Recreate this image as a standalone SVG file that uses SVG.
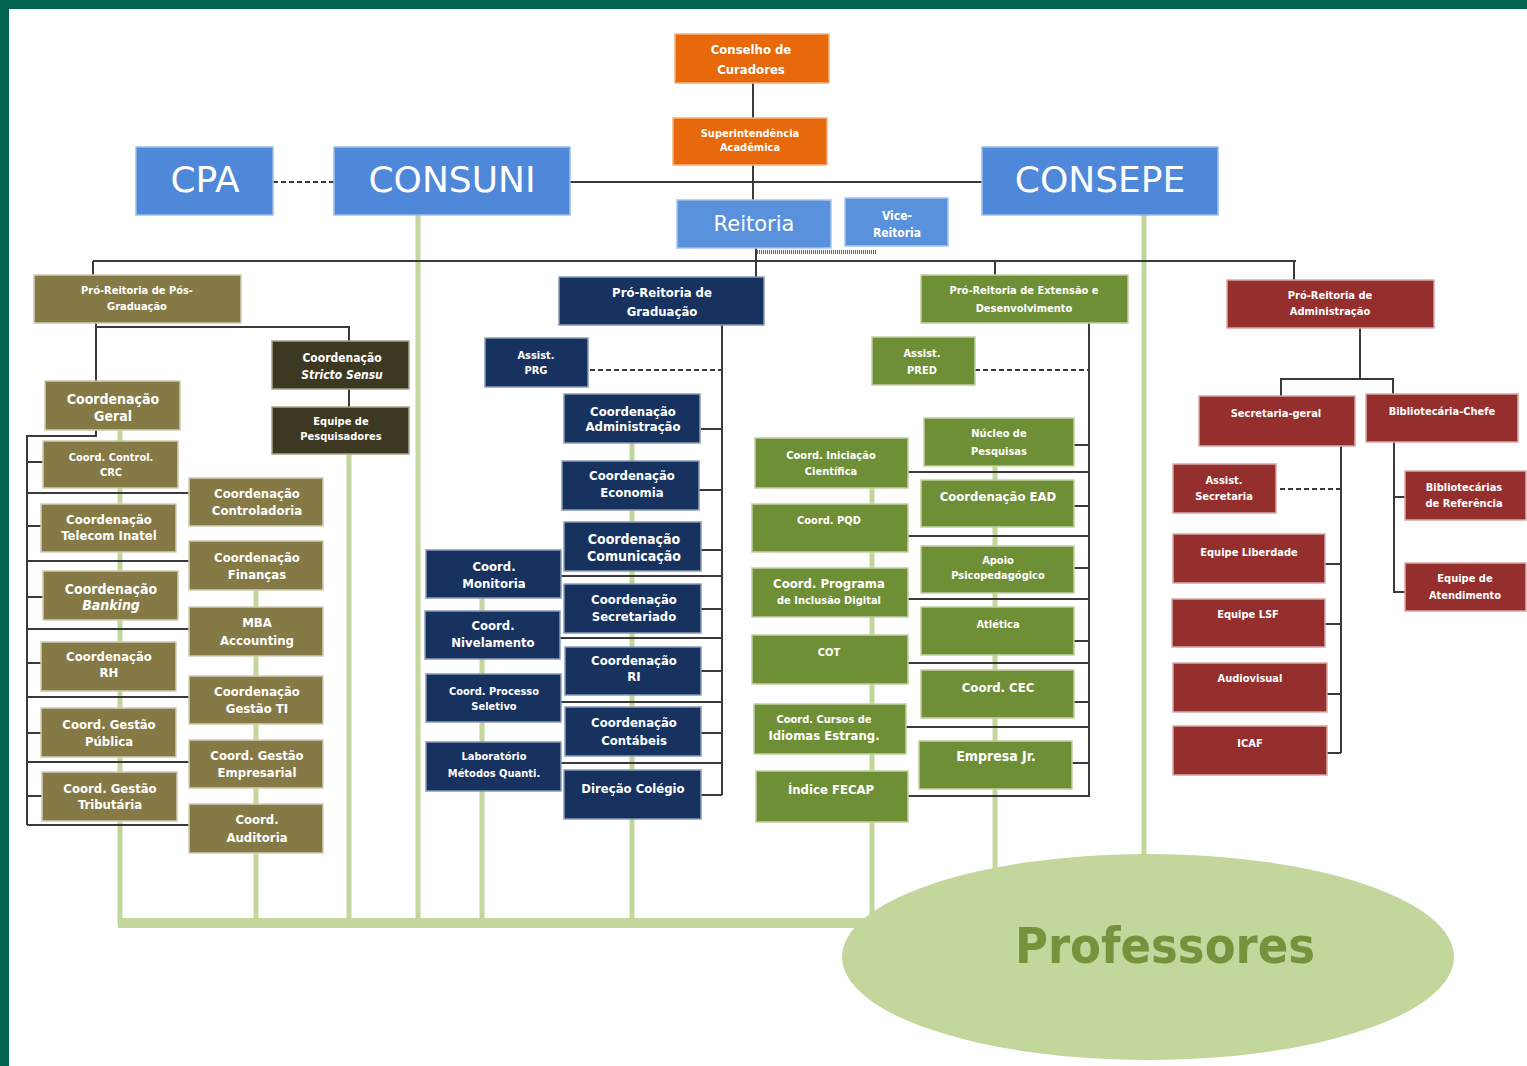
<svg xmlns="http://www.w3.org/2000/svg" width="1527" height="1066" viewBox="0 0 1527 1066">
<style>
.frame{fill:#00624f}
.gl{stroke:#c3d69b;stroke-width:5;fill:none}
.c{stroke:#3a3a3a;stroke-width:2;fill:none}
.d{stroke:#3a3a3a;stroke-width:2;fill:none;stroke-dasharray:5 3}
.or{fill:#e8690c;stroke:#f3b27e;stroke-width:1.5}
.bl{fill:#4f88d8;stroke:#9dbde9;stroke-width:1.5}
.bl2{fill:#5a91dd;stroke:#a7c4ec;stroke-width:1.5}
.ol{fill:#857a45;stroke:#d2ccb3;stroke-width:1.5}
.dk{fill:#3d3822;stroke:#a8a48f;stroke-width:1.5}
.nv{fill:#17325f;stroke:#8a9bb8;stroke-width:1.5}
.gr{fill:#6f8f37;stroke:#c2d0a3;stroke-width:1.5}
.rd{fill:#952f2e;stroke:#d9a9a8;stroke-width:1.5}
.t{font-family:"DejaVu Sans Condensed","Liberation Sans",sans-serif;font-weight:bold;font-size:12px;fill:#fff;text-anchor:middle}
.s{font-size:11px}
.m{font-size:13px}
.l{font-size:14px}
.big{font-family:"DejaVu Sans",sans-serif;font-size:36px;fill:#fff;text-anchor:middle}
.rei{font-family:"DejaVu Sans",sans-serif;font-size:21px;fill:#fff;text-anchor:middle}
.prof{font-family:"DejaVu Sans Condensed","DejaVu Sans",sans-serif;font-weight:bold;font-size:50px;fill:#76923c;text-anchor:middle}
</style>
<rect width="1527" height="1066" fill="#fff"/>
<rect class="frame" x="0" y="0" width="1527" height="9"/>
<rect class="frame" x="0" y="0" width="9" height="1066"/>

<g id="professor-links">
<line class="gl" x1="120" y1="430" x2="120" y2="925"/>
<line class="gl" x1="256" y1="590" x2="256" y2="925"/>
<line class="gl" x1="349" y1="454" x2="349" y2="925"/>
<line class="gl" x1="418" y1="215" x2="418" y2="925"/>
<line class="gl" x1="482" y1="598" x2="482" y2="925"/>
<line class="gl" x1="632" y1="443" x2="632" y2="925"/>
<line class="gl" x1="872" y1="488" x2="872" y2="925"/>
<line class="gl" x1="995" y1="466" x2="995" y2="880"/>
<line class="gl" x1="1144" y1="215" x2="1144" y2="870"/>
<rect x="118" y="918" width="780" height="10" fill="#c3d69b"/>
</g>

<g id="professores">
<ellipse cx="1148" cy="957" rx="306" ry="103" fill="#c3d69b"/>
<text class="prof" x="1165" y="963">Professores</text>
</g>

<g id="connectors">
<line class="c" x1="753" y1="83" x2="753" y2="200"/>
<line class="c" x1="570" y1="182" x2="982" y2="182"/>
<line class="d" x1="273" y1="182" x2="334" y2="182"/>
<line class="c" x1="93" y1="261" x2="1296" y2="261"/>
<line class="c" x1="756" y1="248" x2="756" y2="277"/>
<line x1="757" y1="252" x2="877" y2="252" stroke="#666" stroke-width="4" stroke-dasharray="1 1"/>
<line class="c" x1="93" y1="261" x2="93" y2="275"/>
<line class="c" x1="995" y1="261" x2="995" y2="275"/>
<line class="c" x1="1294" y1="261" x2="1294" y2="280"/>
<!-- Pós-Graduação -->
<polyline class="c" points="96,323 96,381"/>
<polyline class="c" points="96,327 349,327 349,341"/>
<line class="c" x1="349" y1="389" x2="349" y2="407"/>
<polyline class="c" points="96,430 96,436 27,436 27,825"/>
<line class="c" x1="27" y1="462" x2="44" y2="462"/>
<line class="c" x1="27" y1="526" x2="42" y2="526"/>
<line class="c" x1="27" y1="597" x2="44" y2="597"/>
<line class="c" x1="27" y1="663" x2="42" y2="663"/>
<line class="c" x1="27" y1="733" x2="42" y2="733"/>
<line class="c" x1="27" y1="796" x2="42" y2="796"/>
<line class="c" x1="27" y1="493" x2="189" y2="493"/>
<line class="c" x1="27" y1="561" x2="189" y2="561"/>
<line class="c" x1="27" y1="629" x2="189" y2="629"/>
<line class="c" x1="27" y1="697" x2="189" y2="697"/>
<line class="c" x1="27" y1="762" x2="189" y2="762"/>
<line class="c" x1="27" y1="825" x2="189" y2="825"/>
<!-- Graduação -->
<line class="c" x1="722" y1="325" x2="722" y2="795"/>
<line class="d" x1="590" y1="370" x2="722" y2="370"/>
<line class="c" x1="701" y1="429" x2="722" y2="429"/>
<line class="c" x1="699" y1="490" x2="722" y2="490"/>
<line class="c" x1="701" y1="550" x2="722" y2="550"/>
<line class="c" x1="701" y1="609" x2="722" y2="609"/>
<line class="c" x1="701" y1="671" x2="722" y2="671"/>
<line class="c" x1="701" y1="733" x2="722" y2="733"/>
<line class="c" x1="701" y1="795" x2="722" y2="795"/>
<line class="c" x1="561" y1="576" x2="722" y2="576"/>
<line class="c" x1="560" y1="638" x2="722" y2="638"/>
<line class="c" x1="561" y1="702" x2="722" y2="702"/>
<line class="c" x1="561" y1="763" x2="722" y2="763"/>
<!-- Extensão -->
<line class="c" x1="1089" y1="323" x2="1089" y2="797"/>
<line class="d" x1="975" y1="370" x2="1089" y2="370"/>
<line class="c" x1="1074" y1="445" x2="1089" y2="445" stroke-width="4"/>
<line class="c" x1="1074" y1="506" x2="1089" y2="506"/>
<line class="c" x1="1074" y1="568" x2="1089" y2="568"/>
<line class="c" x1="1074" y1="641" x2="1089" y2="641"/>
<line class="c" x1="1074" y1="702" x2="1089" y2="702"/>
<line class="c" x1="1072" y1="763" x2="1089" y2="763"/>
<line class="c" x1="908" y1="472" x2="1089" y2="472"/>
<line class="c" x1="908" y1="536" x2="1089" y2="536"/>
<line class="c" x1="908" y1="599" x2="1089" y2="599"/>
<line class="c" x1="908" y1="663" x2="1089" y2="663"/>
<line class="c" x1="906" y1="727" x2="1089" y2="727"/>
<line class="c" x1="908" y1="796" x2="1089" y2="796"/>
<!-- Administração -->
<line class="c" x1="1360" y1="328" x2="1360" y2="379"/>
<polyline class="c" points="1281,396 1281,379 1393,379 1393,394"/>
<line class="c" x1="1341" y1="446" x2="1341" y2="753"/>
<line class="d" x1="1280" y1="489" x2="1341" y2="489" stroke="#888"/>
<line class="c" x1="1325" y1="564" x2="1341" y2="564"/>
<line class="c" x1="1325" y1="624" x2="1341" y2="624"/>
<line class="c" x1="1327" y1="694" x2="1341" y2="694"/>
<line class="c" x1="1327" y1="753" x2="1341" y2="753"/>
<polyline class="c" points="1394,442 1394,592 1405,592"/>
<line class="c" x1="1394" y1="497" x2="1405" y2="497"/>
</g>

<g id="conselho-curadores"><rect class="or" x="675" y="34" width="154" height="49"/><text class="t m" x="751" y="54">Conselho de</text><text class="t m" x="751" y="74">Curadores</text></g>
<g id="superintendencia"><rect class="or" x="673" y="118" width="154" height="47"/><text class="t s" x="750" y="137">Superintendência</text><text class="t s" x="750" y="151">Acadêmica</text></g>
<g id="cpa"><rect class="bl" x="136" y="147" width="137" height="68"/><text class="big" x="205" y="192">CPA</text></g>
<g id="consuni"><rect class="bl" x="334" y="147" width="236" height="68"/><text class="big" x="452" y="192">CONSUNI</text></g>
<g id="consepe"><rect class="bl" x="982" y="147" width="236" height="68"/><text class="big" x="1100" y="192">CONSEPE</text></g>
<g id="reitoria"><rect class="bl2" x="677" y="200" width="154" height="48"/><text class="rei" x="754" y="231">Reitoria</text></g>
<g id="vice-reitoria"><rect class="bl2" x="845" y="198" width="103" height="48"/><text class="t" x="897" y="220">Vice-</text><text class="t" x="897" y="237">Reitoria</text></g>

<g id="pr-pos"><rect class="ol" x="34" y="275" width="207" height="48"/><text class="t s" x="137" y="294">Pró-Reitoria de Pós-</text><text class="t s" x="137" y="310">Graduação</text></g>
<g id="pr-graduacao"><rect class="nv" x="559" y="277" width="205" height="48"/><text class="t m" x="662" y="297">Pró-Reitoria de</text><text class="t m" x="662" y="316">Graduação</text></g>
<g id="pr-extensao"><rect class="gr" x="921" y="275" width="207" height="48"/><text class="t s" x="1024" y="294">Pró-Reitoria de Extensão e</text><text class="t s" x="1024" y="312">Desenvolvimento</text></g>
<g id="pr-administracao"><rect class="rd" x="1227" y="280" width="207" height="48"/><text class="t s" x="1330" y="299">Pró-Reitoria de</text><text class="t s" x="1330" y="315">Administração</text></g>

<g id="stricto-sensu"><rect class="dk" x="272" y="341" width="137" height="48"/><text class="t" x="342" y="362">Coordenação</text><text class="t" x="342" y="379" font-style="italic">Stricto Sensu</text></g>
<g id="equipe-pesquisadores"><rect class="dk" x="272" y="407" width="137" height="47"/><text class="t s" x="341" y="425">Equipe de</text><text class="t s" x="341" y="440">Pesquisadores</text></g>
<g id="coord-geral"><rect class="ol" x="45" y="381" width="135" height="49"/><text class="t l" x="113" y="404">Coordenação</text><text class="t l" x="113" y="421">Geral</text></g>
<g id="coord-crc"><rect class="ol" x="43" y="441" width="135" height="47"/><text class="t s" x="111" y="461">Coord. Control.</text><text class="t s" x="111" y="476">CRC</text></g>
<g id="coord-telecom"><rect class="ol" x="41" y="504" width="135" height="48"/><text class="t m" x="109" y="524">Coordenação</text><text class="t m" x="109" y="540">Telecom Inatel</text></g>
<g id="coord-banking"><rect class="ol" x="43" y="571" width="135" height="49"/><text class="t l" x="111" y="594">Coordenação</text><text class="t l" x="111" y="610" font-style="italic">Banking</text></g>
<g id="coord-rh"><rect class="ol" x="41" y="642" width="135" height="49"/><text class="t m" x="109" y="661">Coordenação</text><text class="t m" x="109" y="677">RH</text></g>
<g id="coord-publica"><rect class="ol" x="41" y="708" width="135" height="49"/><text class="t m" x="109" y="729">Coord. Gestão</text><text class="t m" x="109" y="746">Pública</text></g>
<g id="coord-tributaria"><rect class="ol" x="42" y="772" width="135" height="49"/><text class="t m" x="110" y="793">Coord. Gestão</text><text class="t m" x="110" y="809">Tributária</text></g>
<g id="coord-controladoria"><rect class="ol" x="189" y="478" width="134" height="48"/><text class="t m" x="257" y="498">Coordenação</text><text class="t m" x="257" y="515">Controladoria</text></g>
<g id="coord-financas"><rect class="ol" x="189" y="541" width="134" height="49"/><text class="t m" x="257" y="562">Coordenação</text><text class="t m" x="257" y="579">Finanças</text></g>
<g id="mba-accounting"><rect class="ol" x="189" y="607" width="134" height="49"/><text class="t m" x="257" y="627">MBA</text><text class="t m" x="257" y="645">Accounting</text></g>
<g id="coord-gestao-ti"><rect class="ol" x="189" y="676" width="134" height="48"/><text class="t m" x="257" y="696">Coordenação</text><text class="t m" x="257" y="713">Gestão TI</text></g>
<g id="coord-empresarial"><rect class="ol" x="189" y="740" width="134" height="48"/><text class="t m" x="257" y="760">Coord. Gestão</text><text class="t m" x="257" y="777">Empresarial</text></g>
<g id="coord-auditoria"><rect class="ol" x="189" y="804" width="134" height="49"/><text class="t m" x="257" y="824">Coord.</text><text class="t m" x="257" y="842">Auditoria</text></g>

<g id="assist-prg"><rect class="nv" x="485" y="338" width="103" height="49"/><text class="t s" x="536" y="359">Assist.</text><text class="t s" x="536" y="374">PRG</text></g>
<g id="coord-administracao"><rect class="nv" x="564" y="394" width="136" height="49"/><text class="t m" x="633" y="416">Coordenação</text><text class="t m" x="633" y="431">Administração</text></g>
<g id="coord-economia"><rect class="nv" x="562" y="461" width="137" height="49"/><text class="t m" x="632" y="480">Coordenação</text><text class="t m" x="632" y="497">Economia</text></g>
<g id="coord-comunicacao"><rect class="nv" x="564" y="522" width="137" height="49"/><text class="t l" x="634" y="544">Coordenação</text><text class="t l" x="634" y="561">Comunicação</text></g>
<g id="coord-secretariado"><rect class="nv" x="564" y="584" width="137" height="49"/><text class="t m" x="634" y="604">Coordenação</text><text class="t m" x="634" y="621">Secretariado</text></g>
<g id="coord-ri"><rect class="nv" x="565" y="647" width="136" height="48"/><text class="t m" x="634" y="665">Coordenação</text><text class="t m" x="634" y="681">RI</text></g>
<g id="coord-contabeis"><rect class="nv" x="565" y="707" width="136" height="49"/><text class="t m" x="634" y="727">Coordenação</text><text class="t m" x="634" y="745">Contábeis</text></g>
<g id="direcao-colegio"><rect class="nv" x="564" y="770" width="137" height="49"/><text class="t m" x="633" y="793">Direção Colégio</text></g>
<g id="coord-monitoria"><rect class="nv" x="426" y="550" width="135" height="48"/><text class="t m" x="494" y="571">Coord.</text><text class="t m" x="494" y="588">Monitoria</text></g>
<g id="coord-nivelamento"><rect class="nv" x="425" y="611" width="135" height="48"/><text class="t m" x="493" y="630">Coord.</text><text class="t m" x="493" y="647">Nivelamento</text></g>
<g id="coord-processo"><rect class="nv" x="426" y="674" width="135" height="48"/><text class="t s" x="494" y="695">Coord. Processo</text><text class="t s" x="494" y="710">Seletivo</text></g>
<g id="laboratorio"><rect class="nv" x="426" y="742" width="135" height="49"/><text class="t s" x="494" y="760">Laboratório</text><text class="t s" x="494" y="777">Métodos Quanti.</text></g>

<g id="assist-pred"><rect class="gr" x="872" y="337" width="103" height="48"/><text class="t s" x="922" y="357">Assist.</text><text class="t s" x="922" y="374">PRED</text></g>
<g id="nucleo-pesquisas"><rect class="gr" x="924" y="418" width="150" height="48"/><text class="t s" x="999" y="437">Núcleo de</text><text class="t s" x="999" y="455">Pesquisas</text></g>
<g id="coord-ead"><rect class="gr" x="921" y="480" width="153" height="47"/><text class="t m" x="998" y="501">Coordenação EAD</text></g>
<g id="apoio-psico"><rect class="gr" x="921" y="546" width="153" height="47"/><text class="t s" x="998" y="564">Apoio</text><text class="t s" x="998" y="579">Psicopedagógico</text></g>
<g id="atletica"><rect class="gr" x="921" y="607" width="153" height="48"/><text class="t s" x="998" y="628">Atlética</text></g>
<g id="coord-cec"><rect class="gr" x="921" y="670" width="153" height="48"/><text class="t m" x="998" y="692">Coord.  CEC</text></g>
<g id="empresa-jr"><rect class="gr" x="919" y="741" width="153" height="48"/><text class="t l" x="996" y="761">Empresa Jr.</text></g>
<g id="coord-iniciacao"><rect class="gr" x="755" y="438" width="153" height="50"/><text class="t s" x="831" y="459">Coord. Iniciação</text><text class="t s" x="831" y="475">Científica</text></g>
<g id="coord-pqd"><rect class="gr" x="752" y="504" width="156" height="48"/><text class="t s" x="829" y="524">Coord. PQD</text></g>
<g id="coord-inclusao"><rect class="gr" x="752" y="568" width="156" height="49"/><text class="t m" x="829" y="588">Coord. Programa</text><text class="t s" x="829" y="604">de Inclusão Digital</text></g>
<g id="cot"><rect class="gr" x="752" y="635" width="156" height="49"/><text class="t s" x="829" y="656">COT</text></g>
<g id="coord-idiomas"><rect class="gr" x="754" y="704" width="152" height="50"/><text class="t s" x="824" y="723">Coord. Cursos de</text><text class="t m" x="824" y="740">Idiomas Estrang.</text></g>
<g id="indice-fecap"><rect class="gr" x="756" y="771" width="152" height="51"/><text class="t m" x="831" y="794">Índice FECAP</text></g>

<g id="secretaria-geral"><rect class="rd" x="1199" y="396" width="156" height="50"/><text class="t s" x="1276" y="417">Secretaria-geral</text></g>
<g id="bibliotecaria-chefe"><rect class="rd" x="1366" y="394" width="152" height="48"/><text class="t s" x="1442" y="415">Bibliotecária-Chefe</text></g>
<g id="assist-secretaria"><rect class="rd" x="1173" y="464" width="103" height="49"/><text class="t s" x="1224" y="484">Assist.</text><text class="t s" x="1224" y="500">Secretaria</text></g>
<g id="equipe-liberdade"><rect class="rd" x="1173" y="534" width="152" height="49"/><text class="t s" x="1249" y="556">Equipe  Liberdade</text></g>
<g id="equipe-lsf"><rect class="rd" x="1172" y="599" width="153" height="48"/><text class="t s" x="1248" y="618">Equipe LSF</text></g>
<g id="audiovisual"><rect class="rd" x="1173" y="663" width="154" height="49"/><text class="t s" x="1250" y="682">Audiovisual</text></g>
<g id="icaf"><rect class="rd" x="1173" y="726" width="154" height="49"/><text class="t s" x="1250" y="747">ICAF</text></g>
<g id="bibliotecarias-referencia"><rect class="rd" x="1405" y="471" width="121" height="49"/><text class="t s" x="1464" y="491">Bibliotecárias</text><text class="t s" x="1464" y="507">de Referência</text></g>
<g id="equipe-atendimento"><rect class="rd" x="1405" y="563" width="121" height="48"/><text class="t s" x="1465" y="582">Equipe de</text><text class="t s" x="1465" y="599">Atendimento</text></g>
</svg>
